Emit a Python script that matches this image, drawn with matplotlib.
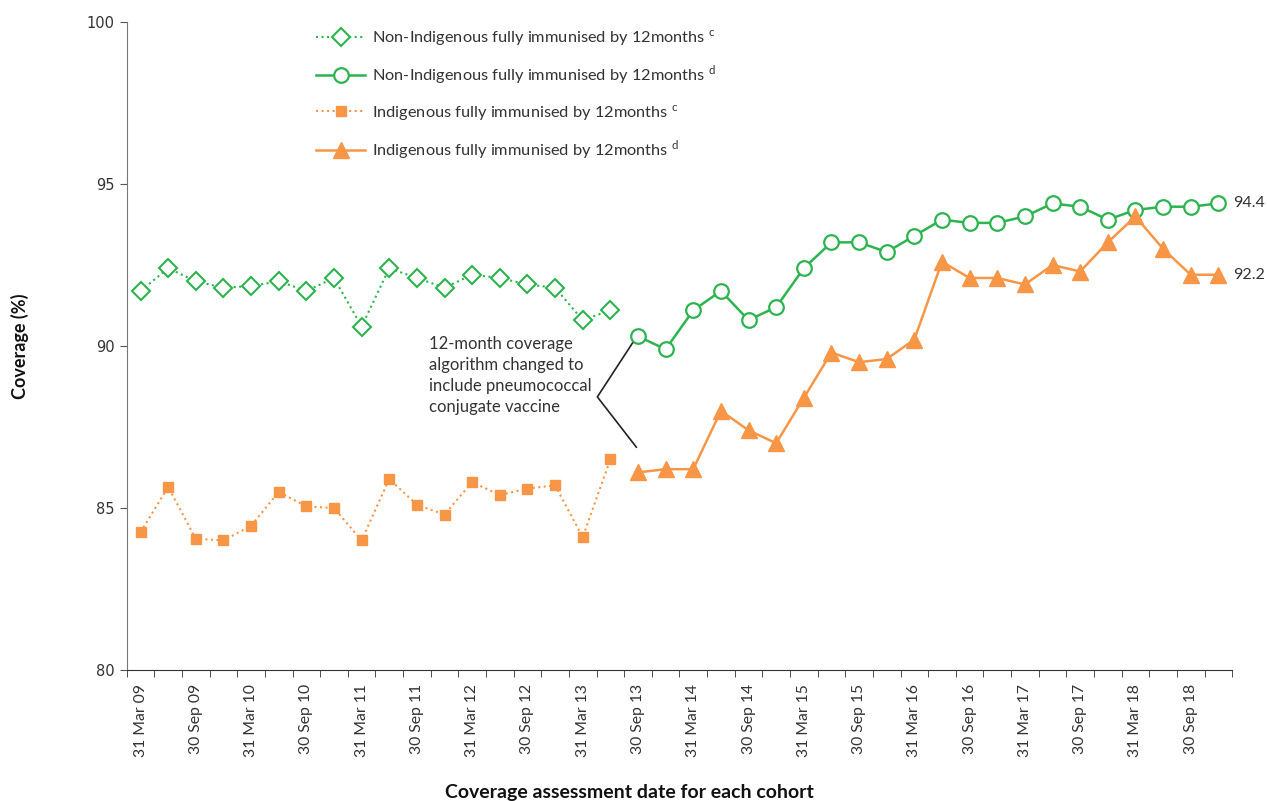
import matplotlib.pyplot as plt
from matplotlib.ticker import FixedLocator, MultipleLocator

plt.rcParams['font.family'] = ['Lato', 'DejaVu Sans']

# quarterly assessment dates, 31 Mar 09 .. 31 Dec 18
MONTHS = ["31 Mar", "30 Jun", "30 Sep", "31 Dec"]
dates = [f"{MONTHS[q]} {y:02d}" for y in range(9, 19) for q in range(4)]

# old algorithm (c), Mar 09 - Jun 13
non_indig_c = [91.7, 92.4, 92.0, 91.8, 91.85, 92.0, 91.7, 92.1, 90.6,
               92.4, 92.1, 91.8, 92.2, 92.1, 91.9, 91.8, 90.8, 91.1]
indig_c = [84.25, 85.65, 84.05, 84.0, 84.45, 85.5, 85.05, 85.0, 84.0,
           85.9, 85.1, 84.8, 85.8, 85.4, 85.6, 85.7, 84.1, 86.5]

# new algorithm (d), Sep 13 - Dec 18
non_indig_d = [90.3, 89.9, 91.1, 91.7, 90.8, 91.2, 92.4, 93.2, 93.2, 92.9, 93.4,
               93.9, 93.8, 93.8, 94.0, 94.4, 94.3, 93.9, 94.2, 94.3, 94.3, 94.4]
indig_d = [86.1, 86.2, 86.2, 88.0, 87.4, 87.0, 88.4, 89.8, 89.5, 89.6, 90.2,
           92.6, 92.1, 92.1, 91.9, 92.5, 92.3, 93.2, 94.0, 93.0, 92.2, 92.2]

GREEN = "#2db34f"
ORANGE = "#f79646"
TEXT = "#333333"

x_c = list(range(len(non_indig_c)))
x_d = list(range(len(non_indig_c), len(dates)))

fig = plt.figure(figsize=(12.67, 8.01), dpi=100)
ax = fig.add_axes([0.1, 0.1635, 0.8725, 0.809])

h1, = ax.plot(x_c, non_indig_c, ls=":", lw=1.5, color=GREEN, marker="D", ms=9,
              mfc="white", mec=GREEN, mew=1.5,
              label=r"Non-Indigenous fully immunised by 12months $^{\mathregular{c}}$")
h2, = ax.plot(x_d, non_indig_d, ls="-", lw=1.8, color=GREEN, marker="o", ms=10.5,
              mfc="white", mec=GREEN, mew=1.6,
              label=r"Non-Indigenous fully immunised by 12months $^{\mathregular{d}}$")
h3, = ax.plot(x_c, indig_c, ls=":", lw=1.5, color=ORANGE, marker="s", ms=7.5,
              mfc=ORANGE, mec=ORANGE,
              label=r"Indigenous fully immunised by 12months $^{\mathregular{c}}$")
h4, = ax.plot(x_d, indig_d, ls="-", lw=1.8, color=ORANGE, marker="^", ms=12,
              mfc=ORANGE, mec=ORANGE,
              label=r"Indigenous fully immunised by 12months $^{\mathregular{d}}$")

# end labels
ax.text(x_d[-1] + 0.55, non_indig_d[-1], f"{non_indig_d[-1]:.1f}", va="center",
        ha="left", fontsize=11.5, color=TEXT)
ax.text(x_d[-1] + 0.55, indig_d[-1], f"{indig_d[-1]:.1f}", va="center",
        ha="left", fontsize=11.5, color=TEXT)

# annotation about algorithm change
ax.text(10.45, 90.3, "12-month coverage\nalgorithm changed to\ninclude pneumococcal\nconjugate vaccine",
        va="top", ha="left", fontsize=12, color=TEXT, linespacing=1.38)
ax.plot([17.8, 16.53, 17.94], [90.09, 88.43, 86.88], color="#222222", lw=1.2)

ax.set_xlim(-0.5, len(dates) - 0.5)
ax.set_ylim(80, 100)
ax.yaxis.set_major_locator(MultipleLocator(5))

ax.set_xticks(range(0, len(dates), 2))
ax.set_xticklabels(dates[::2], rotation=90, fontsize=11.3, color=TEXT)
ax.xaxis.set_minor_locator(FixedLocator([i - 0.5 for i in range(len(dates) + 1)]))
ax.tick_params(axis="x", which="major", length=0, pad=10)
ax.tick_params(axis="x", which="minor", length=5, color=TEXT)
ax.tick_params(axis="y", length=5, labelsize=10.5, labelcolor=TEXT, color="#555555")
for lab in ax.get_yticklabels():
    lab.set_family("DejaVu Sans")

for s in ["top", "right"]:
    ax.spines[s].set_visible(False)
ax.spines["left"].set_color("#777777")
ax.spines["bottom"].set_color(TEXT)

ax.set_ylabel("Coverage (%)", fontsize=13, fontweight="bold", color="#111111")
ax.yaxis.set_label_coords(-0.088, 0.5)
ax.set_xlabel("Coverage assessment date for each cohort", fontsize=14,
              fontweight="bold", color="#111111")
ax.xaxis.set_label_coords(0.455, -0.176)

fig.legend(handles=[h1, h2, h3, h4], loc="upper left",
           bbox_to_anchor=(0.238, 0.983), frameon=False, fontsize=11.8,
           handlelength=3.0, handletextpad=0.4, labelspacing=0.95,
           labelcolor=TEXT)

fig.savefig("out.png", dpi=100)
